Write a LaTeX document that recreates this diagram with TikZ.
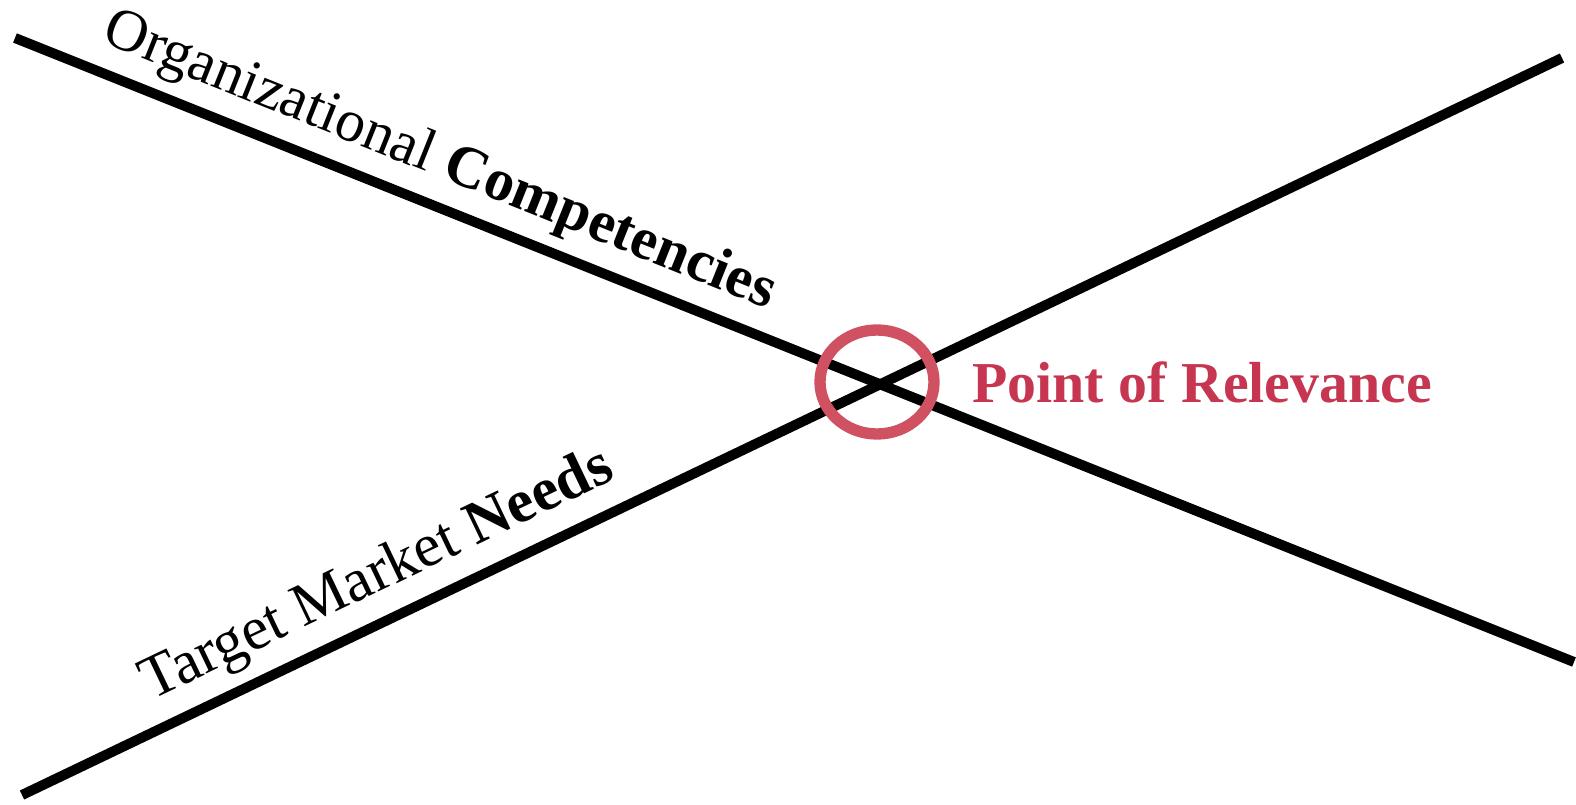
\documentclass[tikz,border=0pt]{standalone}
\usepackage{fontspec}
\setmainfont{Liberation Serif}
\definecolor{ringred}{RGB}{208,82,98}
\definecolor{txtred}{RGB}{198,54,80}
\tikzset{
  axisline/.style={line width=7.5pt, black},
  ring/.style={draw=ringred, line width=8.5pt, ellipse, minimum width=85.5pt, minimum height=78pt, inner sep=0pt},
  linelabel/.style={anchor=base, inner sep=0pt, font=\fontsize{44.5pt}{50pt}\selectfont},
}
\usetikzlibrary{shapes.geometric}
\begin{document}
\begin{tikzpicture}[x=0.75pt,y=0.75pt]
\useasboundingbox (0,0) rectangle (1576,804);
\coordinate (a1) at (15,766);
\coordinate (b1) at (1574,142);
\coordinate (a2) at (22,9);
\coordinate (b2) at (1562,746);
\draw[axisline] (a1) -- (b1);
\draw[axisline] (a2) -- (b2);
\node[ring] (pt) at (877,422) {};
\node[linelabel, rotate=-21.84] (org) at (434,629) {Organizational \textbf{Competencies}};
\node[linelabel, rotate=25.57, font=\fontsize{45.7pt}{50pt}\selectfont] (tgt) at (384,214.5) {Target Market \textbf{Needs}};
\node[anchor=base west, inner sep=0pt, text=txtred, font=\bfseries\fontsize{43.4pt}{50pt}\selectfont] (por) at (972,402) {Point of Relevance};
\end{tikzpicture}
\end{document}
